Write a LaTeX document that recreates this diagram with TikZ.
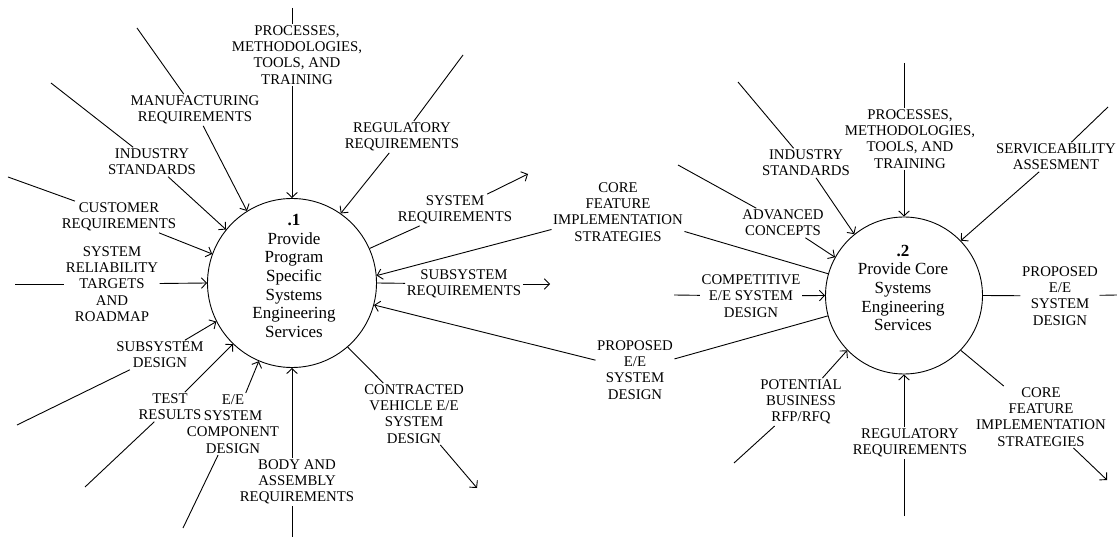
\documentclass[tikz,border=0pt]{standalone}
\usepackage{fontspec}
\setmainfont{Liberation Serif}
\usetikzlibrary{arrows.meta}
\begin{document}
\begin{tikzpicture}[x=1pt,y=-1pt,
  lab/.style={align=center,inner sep=1.5pt,font=\fontsize{14.8}{16.2}\selectfont},
  proc/.style={circle,draw,line width=0.9pt,minimum size=#1,inner sep=0pt},
  ptext/.style={align=center,inner sep=0pt,font=\fontsize{17}{18.7}\selectfont},
  flow/.style={line width=0.9pt},
  arr/.style={flow,-{Straight Barb[length=5pt,width=10.5pt]}}]
\useasboundingbox (0,0) rectangle (1117,537);

% ---------------- process .1 ----------------
\node[proc=169pt] (c1) at (292,283) {};
\node[ptext] (t1) at (294,276) {\textbf{.1}\\Provide\\Program\\Specific\\Systems\\Engineering\\Services};

% inputs of .1
\coordinate (a1) at (292,8);
\node[lab] (p1) at (297,55) {PROCESSES,\\METHODOLOGIES,\\TOOLS, AND\\TRAINING};
\draw[flow] (a1) -- (a1 |- p1.north);
\draw[arr] (c1.north |- p1.south) -- (c1.north);

\coordinate (a2) at (137,28);
\node[lab] (p2) at (195,110) {MANUFACTURING\\REQUIREMENTS};
\draw[flow] (a2) -- (p2);
\draw[arr] (p2) -- (c1.122);

\coordinate (a3) at (51,83);
\node[lab] (p3) at (152,162) {INDUSTRY\\STANDARDS};
\draw[flow] (a3) -- (p3);
\draw[arr] (p3) -- (c1.141);

\coordinate (a4) at (8,177);
\node[lab] (p4) at (119,217) {CUSTOMER\\REQUIREMENTS};
\draw[flow] (a4) -- (p4);
\draw[arr] (p4) -- (c1.160);

\coordinate (a5) at (15,284);
\node[lab] (p5) at (112,284) {SYSTEM\\RELIABILITY\\TARGETS\\AND\\ROADMAP};
\draw[flow] (a5) -- (p5);
\draw[arr] (p5) -- (c1.180);

\coordinate (a6) at (17,425);
\node[lab] (p6) at (160,355) {SUBSYSTEM\\DESIGN};
\draw[flow] (a6) -- (p6);
\draw[arr] (p6) -- (c1.207);

\coordinate (a7) at (85,487);
\node[lab] (p7) at (170,407) {TEST\\RESULTS};
\draw[flow] (a7) -- (p7);
\draw[arr] (p7) -- (c1.226);

\coordinate (a8) at (183,528);
\node[lab] (p8) at (233,424) {E/E\\SYSTEM\\COMPONENT\\DESIGN};
\draw[flow] (a8) -- (p8);
\draw[arr] (p8) -- (c1.247);

\coordinate (a9) at (292,537);
\node[lab] (p9) at (297,482) {BODY AND\\ASSEMBLY\\REQUIREMENTS};
\draw[flow] (a9) -- (a9 |- p9.south);
\draw[arr] (c1.south |- p9.north) -- (c1.south);

\coordinate (a10) at (463,55);
\node[lab] (p10) at (402,137) {REGULATORY\\REQUIREMENTS};
\draw[flow] (a10) -- (p10);
\draw[arr] (p10) -- (c1.55);

% outputs of .1
\coordinate (b1) at (528,174);
\node[lab] (q1) at (455,210) {SYSTEM\\REQUIREMENTS};
\draw[flow] (c1.24) -- (q1);
\draw[arr] (q1) -- (b1);

\coordinate (b2) at (550,284);
\node[lab] (q2) at (464,284) {SUBSYSTEM\\REQUIREMENTS};
\draw[flow] (c1.0) -- (q2);
\draw[arr] (q2) -- (b2);

\coordinate (b3) at (477,488);
\node[lab] (q3) at (414,414) {CONTRACTED\\VEHICLE E/E\\SYSTEM\\DESIGN};
\draw[flow] (c1.311) -- (q3);
\draw[arr] (q3) -- (b3);

% ---------------- process .2 ----------------
\node[proc=157pt] (c2) at (904,295.5) {};
\node[ptext] (t2) at (903,288) {\textbf{.2}\\Provide Core\\Systems\\Engineering\\Services};

% flows from .2 to .1
\node[lab] (m1) at (618,212) {CORE\\FEATURE\\IMPLEMENTATION\\STRATEGIES};
\draw[flow] (c2.164) -- (m1);
\draw[arr] (m1) -- (c1.5);

\node[lab] (m2) at (635,370) {PROPOSED\\E/E\\SYSTEM\\DESIGN};
\draw[flow] (c2.195) -- (m2);
\draw[arr] (m2) -- (c1.345);

% inputs of .2
\coordinate (d1) at (738,82);
\node[lab] (r1) at (806,163) {INDUSTRY\\STANDARDS};
\draw[flow] (d1) -- (r1);
\draw[arr] (r1) -- (c2.129);

\coordinate (d2) at (904,63);
\node[lab] (r2) at (910,139) {PROCESSES,\\METHODOLOGIES,\\TOOLS, AND\\TRAINING};
\draw[flow] (d2) -- (d2 |- r2.north);
\draw[arr] (c2.north |- r2.south) -- (c2.north);

\coordinate (d3) at (1108,107);
\node[lab] (r3) at (1056,157) {SERVICEABILITY\\ASSESMENT};
\draw[flow] (d3) -- (r3);
\draw[arr] (r3) -- (c2.44);

\coordinate (d4) at (678,165);
\node[lab] (r4) at (783,223) {ADVANCED\\CONCEPTS};
\draw[flow] (d4) -- (r4);
\draw[arr] (r4) -- (c2.151);

\coordinate (d5) at (674,295);
\node[lab] (r5) at (751,296) {COMPETITIVE\\E/E SYSTEM\\DESIGN};
\draw[flow] (d5) -- (r5);
\draw[arr] (r5) -- (c2.180);

\coordinate (d6) at (734,463);
\node[lab] (r6) at (801,402) {POTENTIAL\\BUSINESS\\RFP/RFQ};
\draw[flow] (d6) -- (r6);
\draw[arr] (r6) -- (c2.224);

\coordinate (d7) at (904,516);
\node[lab] (r7) at (910,443) {REGULATORY\\REQUIREMENTS};
\draw[flow] (d7) -- (d7 |- r7.south);
\draw[arr] (c2.south |- r7.north) -- (c2.south);

% outputs of .2
\coordinate (e1) at (1117,295);
\node[lab] (s1) at (1060,296) {PROPOSED\\E/E\\SYSTEM\\DESIGN};
\draw[flow] (c2.0) -- (s1);
\draw[flow] (s1) -- (e1);

\coordinate (e2) at (1107,480);
\node[lab] (s2) at (1041,417) {CORE\\FEATURE\\IMPLEMENTATION\\STRATEGIES};
\draw[flow] (c2.316) -- (s2);
\draw[arr] (s2) -- (e2);
\end{tikzpicture}
\end{document}
